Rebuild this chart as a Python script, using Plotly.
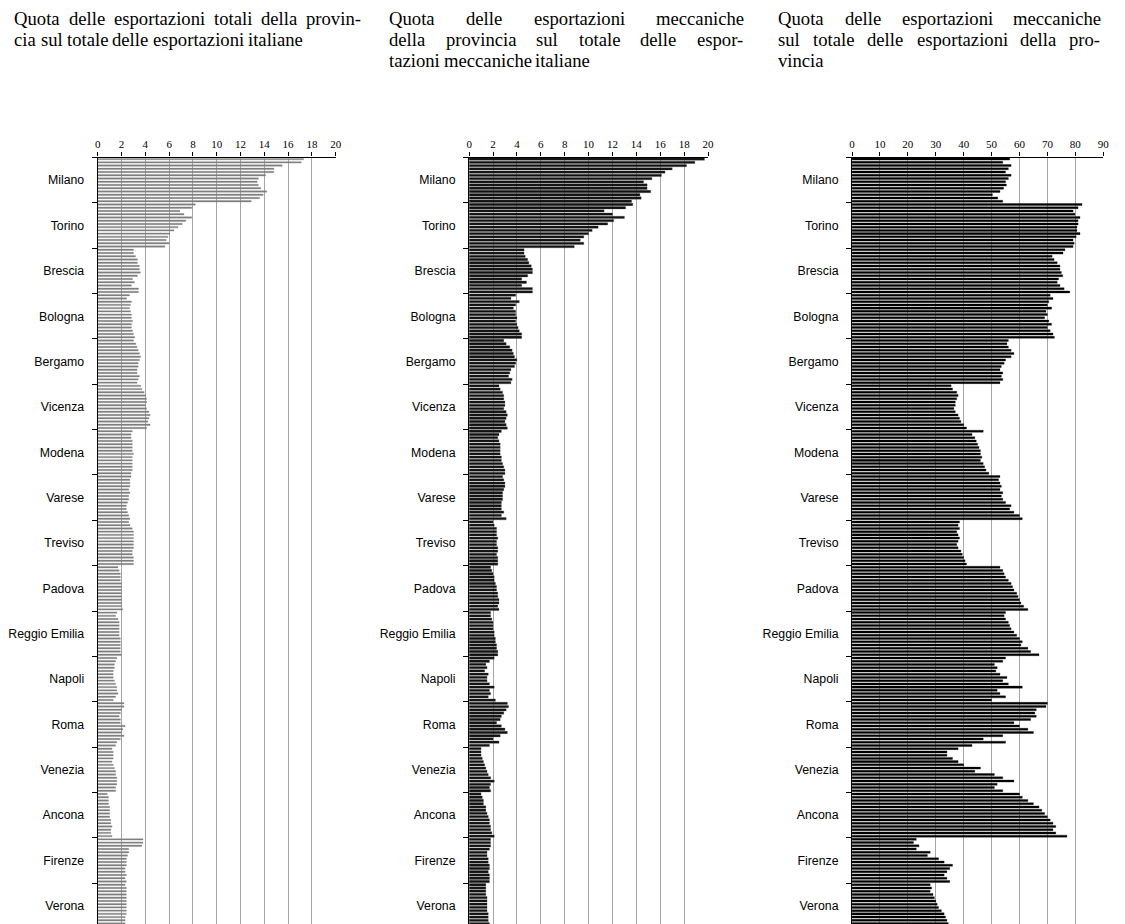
import plotly.graph_objects as go

W, H = 1125, 924
# mapping from reference page pixels to figure pixels (page shows figure offset by the body margin)
SX, OX, OY = 0.9929, 10.0, 8.0


def fx(page_x):
    return page_x / SX - OX


def fy(page_y):
    return page_y - OY


provinces = ["Milano", "Torino", "Brescia", "Bologna", "Bergamo", "Vicenza", "Modena",
             "Varese", "Treviso", "Padova", "Reggio Emilia", "Napoli", "Roma", "Venezia",
             "Ancona", "Firenze", "Verona"]
years = list(range(1991, 2005))  # 14 bars per province

# Quota delle esportazioni totali della provincia sul totale italiano (%)
share_total = [
    [17.3, 17.1, 15.5, 14.8, 14.8, 14.1, 13.5, 13.4, 13.5, 13.7, 14.2, 13.9, 13.6, 12.9],  # Milano
    [8.2, 7.9, 6.9, 7.25, 7.9, 7.4, 7.1, 6.75, 6.4, 6.05, 5.9, 5.75, 6.0, 5.65],           # Torino
    [3.0, 3.0, 3.17, 3.33, 3.33, 3.5, 3.5, 3.58, 3.33, 2.92, 3.08, 2.83, 3.42, 3.42],      # Brescia
    [2.67, 2.42, 2.83, 2.75, 2.67, 2.75, 2.83, 2.83, 2.92, 2.83, 2.83, 2.92, 3.0, 3.1],    # Bologna
    [3.0, 3.2, 3.3, 3.4, 3.5, 3.6, 3.5, 3.4, 3.4, 3.3, 3.3, 3.5, 3.4, 3.3],                # Bergamo
    [3.6, 3.7, 3.9, 4.0, 4.1, 4.1, 4.0, 4.1, 4.3, 4.4, 4.3, 4.2, 4.4, 4.1],                # Vicenza
    [2.9, 2.8, 2.8, 2.9, 2.9, 2.9, 2.9, 3.0, 2.9, 2.9, 2.9, 2.9, 2.9, 2.8],                # Modena
    [2.8, 2.7, 2.7, 2.7, 2.6, 2.7, 2.6, 2.6, 2.5, 2.4, 2.4, 2.5, 2.6, 2.7],                # Varese
    [2.6, 2.7, 2.9, 3.0, 3.0, 3.0, 3.0, 3.0, 3.0, 2.9, 2.9, 3.0, 3.0, 3.0],                # Treviso
    [1.7, 1.8, 1.9, 1.9, 1.9, 2.0, 2.0, 2.0, 2.0, 2.0, 2.0, 2.0, 2.0, 2.1],                # Padova
    [1.6, 1.5, 1.7, 1.8, 1.8, 1.8, 1.8, 1.8, 1.9, 1.9, 1.9, 1.9, 1.9, 2.0],                # Reggio Emilia
    [1.6, 1.5, 1.4, 1.4, 1.3, 1.3, 1.3, 1.4, 1.5, 1.6, 1.6, 1.7, 1.5, 1.3],                # Napoli
    [2.2, 2.2, 2.0, 1.9, 1.8, 1.9, 1.9, 2.3, 2.1, 2.0, 2.2, 1.9, 1.6, 1.5],                # Roma
    [1.2, 1.3, 1.3, 1.3, 1.2, 1.3, 1.4, 1.5, 1.5, 1.6, 1.6, 1.6, 1.5, 1.5],                # Venezia
    [0.8, 0.9, 0.9, 0.9, 1.0, 1.0, 1.0, 1.0, 1.1, 1.1, 1.2, 1.1, 1.1, 1.2],                # Ancona
    [3.8, 3.8, 3.7, 2.6, 2.6, 2.5, 2.4, 2.4, 2.4, 2.3, 2.3, 2.4, 2.3, 2.4],                # Firenze
    [2.3, 2.4, 2.4, 2.4, 2.4, 2.4, 2.4, 2.4, 2.4, 2.4, 2.3, 2.3, 2.3, 2.3],                # Verona
]

# Quota delle esportazioni meccaniche della provincia sul totale meccanico italiano (%)
share_mech = [
    [19.7, 18.9, 18.2, 17.0, 16.4, 16.1, 15.3, 14.6, 14.9, 14.9, 15.2, 14.3, 14.4, 13.6],  # Milano
    [13.7, 13.1, 11.3, 12.0, 13.0, 12.1, 11.6, 10.8, 10.3, 10.0, 9.6, 9.3, 9.6, 8.8],      # Torino
    [4.6, 4.6, 4.7, 4.9, 5.0, 5.2, 5.3, 5.3, 4.9, 4.4, 4.8, 4.4, 5.3, 5.3],                # Brescia
    [3.9, 3.5, 4.2, 3.9, 3.7, 3.9, 3.9, 4.0, 3.9, 4.0, 4.1, 4.2, 4.4, 4.4],                # Bologna
    [2.9, 3.1, 3.4, 3.6, 3.7, 3.8, 4.0, 3.9, 3.8, 3.5, 3.4, 3.3, 3.6, 3.5],                # Bergamo
    [2.5, 2.6, 2.8, 2.9, 2.9, 3.0, 3.0, 2.9, 3.1, 3.2, 3.1, 3.0, 3.1, 3.2],                # Vicenza
    [2.7, 2.5, 2.4, 2.5, 2.6, 2.6, 2.6, 2.6, 2.7, 2.7, 2.8, 2.9, 3.0, 3.0],                # Modena
    [2.8, 2.9, 3.0, 3.0, 2.9, 2.8, 2.8, 2.8, 2.7, 2.7, 2.7, 2.9, 2.7, 3.1],                # Varese
    [2.0, 2.1, 2.3, 2.3, 2.3, 2.4, 2.3, 2.3, 2.4, 2.4, 2.3, 2.4, 2.4, 2.4],                # Treviso
    [1.8, 1.9, 2.0, 2.1, 2.1, 2.2, 2.3, 2.3, 2.4, 2.4, 2.5, 2.5, 2.4, 2.5],                # Padova
    [1.8, 1.8, 1.9, 2.0, 2.0, 2.0, 2.1, 2.1, 2.2, 2.2, 2.3, 2.3, 2.4, 2.4],                # Reggio Emilia
    [2.1, 1.7, 1.4, 1.5, 1.3, 1.6, 1.5, 1.5, 1.7, 2.1, 1.7, 1.8, 1.6, 2.2],                # Napoli
    [3.2, 3.3, 3.1, 2.9, 2.7, 2.6, 2.3, 2.7, 3.0, 3.2, 2.6, 2.0, 2.5, 1.7],                # Roma
    [1.0, 1.0, 1.0, 1.1, 1.2, 1.3, 1.4, 1.5, 1.6, 1.8, 2.1, 1.8, 1.7, 1.8],                # Venezia
    [1.0, 1.1, 1.2, 1.2, 1.4, 1.4, 1.5, 1.6, 1.7, 1.7, 1.8, 1.8, 1.9, 2.1],                # Ancona
    [1.8, 1.8, 1.8, 1.7, 1.5, 1.5, 1.6, 1.6, 1.7, 1.7, 1.6, 1.7, 1.7, 1.7],                # Firenze
    [1.4, 1.4, 1.4, 1.4, 1.5, 1.5, 1.5, 1.5, 1.5, 1.6, 1.6, 1.6, 1.7, 1.7],                # Verona
]

# Quota delle esportazioni meccaniche sul totale delle esportazioni della provincia (%)
mech_of_prov = [
    [56.5, 54.0, 57.0, 56.0, 55.0, 57.0, 56.0, 55.0, 55.3, 54.3, 53.0, 50.3, 52.2, 54.0],  # Milano
    [82.4, 81.0, 79.2, 79.9, 81.7, 81.0, 81.0, 80.6, 80.6, 81.7, 80.3, 79.2, 79.6, 79.2],  # Torino
    [76.3, 75.6, 71.7, 72.4, 73.5, 74.5, 74.5, 75.0, 75.5, 74.0, 73.5, 74.5, 76.0, 78.0],  # Brescia
    [71.0, 72.0, 70.5, 70.0, 71.5, 69.5, 70.0, 69.0, 70.5, 71.5, 70.0, 71.0, 72.0, 72.5],  # Bologna
    [56.0, 55.5, 56.0, 57.0, 58.0, 57.0, 55.0, 54.5, 53.5, 53.0, 54.0, 53.5, 54.0, 53.0],  # Bergamo
    [35.5, 36.0, 37.5, 38.0, 37.5, 37.0, 37.0, 36.5, 37.0, 38.0, 38.5, 39.0, 40.0, 41.0],  # Vicenza
    [47.0, 43.0, 44.0, 44.5, 45.0, 45.5, 46.0, 46.0, 46.5, 46.0, 47.0, 47.5, 48.0, 49.0],  # Modena
    [53.0, 52.5, 53.0, 53.5, 53.0, 54.0, 53.5, 54.0, 55.0, 57.0, 56.5, 58.0, 60.0, 61.0],  # Varese
    [38.5, 38.0, 38.5, 37.5, 38.0, 38.5, 38.0, 37.5, 38.0, 39.0, 39.5, 40.0, 40.5, 41.0],  # Treviso
    [53.0, 54.0, 54.5, 55.0, 56.0, 57.0, 57.5, 58.0, 59.0, 59.5, 60.0, 60.5, 61.5, 63.0],  # Padova
    [55.0, 54.5, 55.0, 56.0, 56.5, 57.0, 58.0, 59.0, 60.0, 61.0, 60.5, 63.0, 64.0, 67.0],  # Reggio Emilia
    [55.0, 54.0, 51.0, 52.0, 51.5, 53.0, 55.5, 54.0, 56.0, 61.0, 52.0, 53.0, 55.0, 50.0],  # Napoli
    [70.0, 69.5, 66.0, 65.5, 66.0, 64.0, 58.0, 60.0, 63.0, 65.0, 54.0, 47.0, 55.0, 43.0],  # Roma
    [38.0, 34.0, 34.0, 36.0, 38.0, 40.0, 46.0, 44.0, 51.0, 54.0, 58.0, 52.0, 51.0, 54.0],  # Venezia
    [60.0, 61.0, 63.0, 65.0, 67.0, 68.0, 69.0, 70.0, 71.0, 72.0, 73.0, 72.0, 73.0, 77.0],  # Ancona
    [23.0, 22.0, 24.0, 23.0, 28.0, 27.0, 31.0, 33.0, 36.0, 35.0, 34.0, 33.0, 34.0, 35.0],  # Firenze
    [28.0, 28.5, 28.0, 29.0, 29.5, 30.0, 30.5, 31.0, 32.0, 33.0, 33.5, 34.0, 34.5, 34.0],  # Verona
]

titles = [
    ["Quota delle esportazioni totali della provin-",
     "cia sul totale delle esportazioni italiane"],
    ["Quota delle esportazioni meccaniche",
     "della provincia sul totale delle espor-",
     "tazioni meccaniche italiane"],
    ["Quota delle esportazioni meccaniche",
     "sul totale delle esportazioni della pro-",
     "vincia"],
]

# ---- text metrics (Times / Liberation Serif advance widths, 1/1000 em) for justified titles
TW = dict(a=444, b=500, c=444, d=500, e=444, f=333, g=500, h=500, i=278, j=278, k=500,
          l=278, m=778, n=500, o=500, p=500, q=500, r=333, s=389, t=278, u=500, v=500,
          w=722, x=500, y=500, z=444, Q=722)
TW["-"] = 333
TW[" "] = 250


def text_w(s, size):
    return sum(TW.get(ch, 500) for ch in s) * size / 1000.0


NY = len(years)
panels = [
    dict(data=share_total, xmax=20, dtick=2, color="#7f7f7f", width=0.45, line="#7f7f7f",
         dom=(94, 333), tx=(8, 358)),
    dict(data=share_mech, xmax=20, dtick=2, color="#111111", width=0.72, line="#444444",
         dom=(466.7, 706.7), tx=(386, 742)),
    dict(data=mech_of_prov, xmax=90, dtick=10, color="#000000", width=0.62, line="#000000",
         dom=(851, 1103.3), tx=(777, 1100)),
]

fig = go.Figure()

top_px = fy(157.5)
sec_px = 45.35
unit_px = sec_px / NY
y_lo = -0.5
y_hi = y_lo + (H - top_px) / unit_px

centers = [p * NY + (NY - 1) / 2 for p in range(len(provinces))]

TFS = 18.67  # 14pt

for k, pan in enumerate(panels):
    xs, ys, hover = [], [], []
    for p, row in enumerate(pan["data"]):
        for i, v in enumerate(row):
            xs.append(v)
            ys.append(p * NY + i)
            hover.append(f"{provinces[p]} {years[i]}")
    sfx = "" if k == 0 else str(k + 1)
    fig.add_trace(go.Bar(
        x=xs, y=ys, orientation="h", width=pan["width"],
        marker=dict(color=pan["color"], line=dict(color=pan["line"], width=0.3)),
        xaxis="x" + sfx, yaxis="y" + sfx, hovertext=hover, showlegend=False,
    ))
    d0, d1 = pan["dom"]
    fig.layout["xaxis" + sfx] = dict(
        domain=[fx(d0) / W, fx(d1) / W], range=[0, pan["xmax"] * 1.001], side="top",
        anchor="y" + sfx, dtick=pan["dtick"], tick0=0,
        showline=True, linecolor="black", linewidth=1.2,
        ticks="outside", ticklen=4, tickcolor="black",
        showgrid=True, gridcolor="#a6a6a6", gridwidth=1, zeroline=False,
        tickfont=dict(family="Liberation Serif", size=11, color="black"),
        fixedrange=True,
    )
    fig.layout["yaxis" + sfx] = dict(
        domain=[0, 1 - top_px / H], range=[y_hi, y_lo], anchor="x" + sfx,
        tickmode="array", tickvals=centers, ticktext=provinces, ticks="", ticklen=0,
        showline=True, linecolor="black", linewidth=1.2, showgrid=False, zeroline=False,
        tickfont=dict(family="Liberation Sans", size=12.3, color="black"),
        ticklabelstandoff=10,
        minor=dict(tick0=-0.5, dtick=NY, ticks="outside", ticklen=5, tickcolor="black",
                   showgrid=False),
        fixedrange=True,
    )
    # titles: justified lines, last line left aligned
    x_left, x_right = max(fx(pan["tx"][0]), 0.5), fx(pan["tx"][1])
    lines = titles[k]
    for j, line in enumerate(lines):
        ypos = 1 - (fy(18) + 21.3 * j) / H
        words = line.split(" ")
        last = (j == len(lines) - 1)
        positions = []
        cur = x_left
        if last or len(words) == 1:
            for w in words:
                positions.append(cur)
                cur += text_w(w + " ", TFS)
        else:
            total = sum(text_w(w, TFS) for w in words)
            gap = (x_right - x_left - total) / (len(words) - 1)
            for w in words:
                positions.append(cur)
                cur += text_w(w, TFS) + gap
        for w, xp in zip(words, positions):
            fig.add_annotation(
                x=xp / W, y=ypos, xref="paper", yref="paper",
                xanchor="left", yanchor="middle", showarrow=False, text=w,
                borderpad=0, borderwidth=0,
                font=dict(family="Liberation Serif", size=TFS, color="black"),
            )

fig.update_layout(
    width=W, height=H, margin=dict(l=0, r=0, t=0, b=0),
    paper_bgcolor="white", plot_bgcolor="white", barmode="overlay",
)

fig.write_html("out.html")
